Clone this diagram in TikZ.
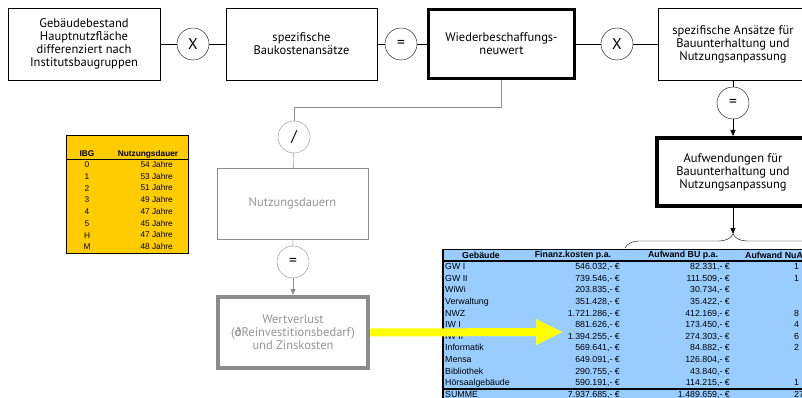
\documentclass[tikz,border=0pt]{standalone}
\usepackage{fontspec}
\setmainfont{PT Sans}
\newfontfamily\arial{Liberation Sans}
\usetikzlibrary{arrows.meta,decorations.pathreplacing}

\definecolor{grau}{HTML}{8C8C8C}
\definecolor{textgrau}{HTML}{959595}
\definecolor{ibggelb}{HTML}{FFCC00}
\definecolor{tabblau}{HTML}{99CCFF}
\definecolor{pfeilgelb}{HTML}{FFFF00}

\begin{document}
\begin{tikzpicture}[x=1pt,y=-1pt,
  kasten/.style={draw, align=center, inner sep=0pt, minimum width=150pt, minimum height=72pt, font=\fontsize{12.5}{13}\selectfont},
  opkreis/.style={draw, circle, minimum size=32pt, inner sep=0pt, font=\fontsize{15.5}{15.5}\selectfont},
  tabtext/.style={inner sep=0pt, font=\arial\fontsize{8.8}{8.8}\selectfont},
  tabkopf/.style={inner sep=0pt, font=\arial\bfseries\fontsize{8.8}{8.8}\selectfont},
  ibgtext/.style={inner sep=0pt, font=\arial\fontsize{8.3}{8.3}\selectfont},
  pfeil/.style={-{Triangle[length=6pt,width=5pt]}}]
\useasboundingbox (0,0) rectangle (802,398);
\clip (0,0) rectangle (802,398);

% obere Kette
\node[kasten, minimum width=152pt] (bestand) at (84,44) {Gebäudebestand\\Hauptnutzfläche\\differenziert nach\\Institutsbaugruppen};
\node[opkreis] (mal1) at (193,44) {X};
\node[kasten, minimum width=151pt] (baukosten) at (301.5,44) {spezifische\\Baukostenansätze};
\node[opkreis] (gleich1) at (401,44) {=};
\node[kasten, line width=3pt, minimum width=146pt, minimum height=69pt] (wbnw) at (501.5,44) {Wiederbeschaffungs-\\neuwert};
\node[opkreis] (mal2) at (617,44) {X};
\node[kasten] (ansaetze) at (733,44) {spezifische Ansätze für\\Bauunterhaltung und\\Nutzungsanpassung};
\node[opkreis] (gleich2) at (733,103) {=};
\node[kasten, line width=4pt, minimum width=152pt, minimum height=68pt] (aufwand) at (733,172) {Aufwendungen für\\Bauunterhaltung und\\Nutzungsanpassung};

\draw (bestand) -- (mal1) -- (baukosten) -- (gleich1) -- (wbnw) -- (mal2) -- (ansaetze);
\draw (ansaetze) -- (gleich2);
\draw[pfeil] (gleich2) -- (aufwand);

% grauer Zweig
\node[opkreis, draw=grau] (durch) at (294,137) {/};
\node[kasten, draw=grau, text=textgrau, minimum width=151pt, minimum height=71pt] (dauer) at (292.5,203.5) {Nutzungsdauern};
\node[opkreis, draw=grau] (gleich3) at (293,262) {=};
\node[kasten, draw=grau, line width=4pt, text=textgrau, minimum width=150pt, minimum height=71pt] (wertverlust) at (293,332.5) {Wertverlust\\(\textbf{ð}Reinvestitionsbedarf)\\und Zinskosten};

\draw[grau] (wbnw.south) -- ++(0,27) -| (durch);
\draw[grau] (durch) -- (dauer);
\draw[grau] (dauer) -- (gleich3);
\draw[grau, pfeil] (gleich3) -- (wertverlust);

% Tabelle Nutzungsdauer
\filldraw[fill=ibggelb, draw=black] (66,135) rectangle (188,253);
\draw[line width=1pt] (66,160) -- (188,160);
\node[ibgtext, font=\arial\bfseries\fontsize{8.3}{8.3}\selectfont] at (87,154) {IBG};
\node[ibgtext, font=\arial\bfseries\fontsize{8.3}{8.3}\selectfont] at (148,154) {Nutzungsdauer};
\foreach \ibg/\jahre [count=\i] in {0/54,1/53,2/51,3/49,4/47,5/45,H/47,M/48}
{
	\node[ibgtext] at (87,153.3+11.7*\i) {\ibg};
	\node[ibgtext, anchor=mid east] at (173,153.3+11.7*\i) {\jahre{} Jahre};
}

% Tabelle Kosten
\fill[tabblau] (443,249) rectangle (802,398);
\node[tabkopf] at (481,255.5) {Gebäude};
\node[tabkopf] at (573,255.5) {Finanz.kosten p.a.};
\node[tabkopf] at (683,255.5) {Aufwand BU p.a.};
\node[tabkopf, anchor=west] at (745,255.5) {Aufwand NuA};
\foreach \geb/\fk/\bu/\nu [count=\i] in {GW I/546.032/82.331/1, GW II/739.546/111.509/1, WiWi/203.835/30.734/, Verwaltung/351.428/35.422/, NWZ/1.721.286/412.169/8, IW I/881.626/173.450/4, IW II/1.394.255/274.303/6, Informatik/569.641/84.882/2, Mensa/649.091/126.804/, Bibliothek/290.755/43.840/, Hörsaalgebäude/590.191/114.215/1, SUMME/7.937.685/1.489.659/27}
{
	\node[tabtext, anchor=mid west] at (445,255.6+11.6*\i) {\geb};
	\node[tabtext, anchor=mid east] at (620,255.6+11.6*\i) {\fk,- €};
	\node[tabtext, anchor=mid east] at (730,255.6+11.6*\i) {\bu,- €};
	\node[tabtext, anchor=mid west] at (794,255.6+11.6*\i) {\nu};
}
\draw[line width=1pt] (443,249) -- (802,249);
\draw[line width=1.2pt] (443,261) -- (802,261);
\draw[line width=1.2pt] (443,389) -- (802,389);
\draw[line width=1.5pt] (443,249) -- (443,398);

% Klammer
\coordinate (klammerl) at (625,248);
\coordinate (klammerr) at (841,248);
\coordinate (spitze) at (733,234);
\draw[decorate, decoration={brace, amplitude=14pt}] (klammerl) -- (klammerr);
\draw[pfeil] (aufwand) -- (spitze);

% gelber Pfeil
\coordinate (pfeilziel) at (563,332);
\draw[pfeilgelb, line width=8pt, -{Triangle[length=27pt,width=24pt]}] (wertverlust.east) -- (pfeilziel);
\end{tikzpicture}
\end{document}
